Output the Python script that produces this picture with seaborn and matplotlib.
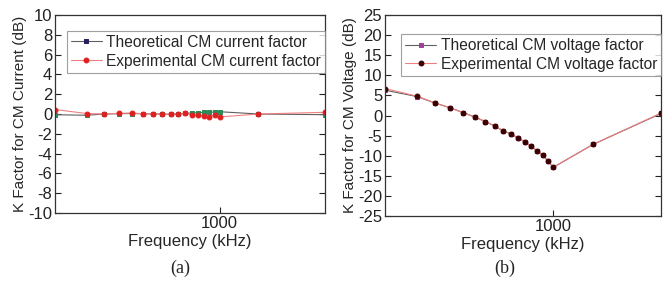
import numpy as np
import pandas as pd
import seaborn as sns
import matplotlib.pyplot as plt
from matplotlib.ticker import FixedLocator, NullLocator, NullFormatter

sns.set_style('ticks')
plt.rcParams['font.family'] = ['Liberation Sans', 'DejaVu Sans']
plt.rcParams['axes.unicode_minus'] = False

# frequencies in kHz
freq = [180, 250, 300, 350, 400, 450, 500, 550, 600, 650, 700, 750, 800, 850, 900, 950, 1000, 1500, 3000]

# (a) CM current K factor (dB)
cur_theo = [-0.07, -0.13, 0.0, 0.03, 0.05, 0.02, 0.0, 0.0, -0.03, 0.0, 0.07, 0.1, 0.13, 0.17, 0.17, 0.2, 0.23, 0.0, -0.07]
cur_exp = [0.45, 0.05, 0.0, 0.07, 0.1, 0.03, 0.0, -0.03, -0.03, 0.0, 0.07, -0.07, -0.13, -0.17, -0.27, -0.07, -0.3, 0.0, 0.17]

# (b) CM voltage K factor (dB)
vol_theo = [6.3, 4.7, 3.1, 1.9, 0.7, -0.4, -1.5, -2.6, -3.8, -4.6, -5.6, -6.6, -7.7, -8.8, -9.9, -11.4, -12.9, -7.2, 0.5]
vol_exp = [6.7, 4.8, 3.1, 1.9, 0.7, -0.4, -1.5, -2.6, -3.8, -4.6, -5.6, -6.6, -7.7, -8.8, -9.9, -11.4, -12.9, -7.2, 0.6]

fig = plt.figure(figsize=(6.7, 2.82), dpi=100)
ax1 = fig.add_axes([55 / 670, 1 - 213 / 282, 270 / 670, 198 / 282])
ax2 = fig.add_axes([385 / 670, 1 - 216 / 282, 276 / 670, 201 / 282])


def draw(ax, theo, exp, tcolor, ecolor, tlabel, elabel, top):
    df = pd.DataFrame({'f': freq, 'theo': theo, 'exp': exp})
    sns.lineplot(data=df, x='f', y='theo', ax=ax, color='#606060', lw=0.8,
                 marker='s', markersize=3, markerfacecolor=tcolor, markeredgecolor=tcolor,
                 label=tlabel, sort=False)
    sns.lineplot(data=df, x='f', y='exp', ax=ax, color='#f08080', lw=0.8,
                 marker='o', markersize=3.5, markerfacecolor=ecolor, markeredgecolor=ecolor,
                 label=elabel, sort=False)
    ax.set_xscale('log')
    ax.set_xlim(180, 3000)
    ax.xaxis.set_major_locator(FixedLocator([1000]))
    ax.xaxis.set_minor_locator(NullLocator())
    ax.xaxis.set_minor_formatter(NullFormatter())
    ax.set_xticklabels(['1000'])
    ax.set_xlabel('Frequency (kHz)', fontsize=12, labelpad=2)
    ax.tick_params(axis='both', direction='in', labelsize=12, length=4, width=0.8,
                   right=True, pad=2, colors='#222222')
    for s in ax.spines.values():
        s.set_linewidth(0.9)
        s.set_color('#333333')
    leg = ax.legend(loc='upper right', bbox_to_anchor=(1.0, top), fontsize=11.2,
                    frameon=True, fancybox=False, borderpad=0.25, handlelength=2.0,
                    handletextpad=0.3, labelspacing=0.25, borderaxespad=0.0)
    leg.get_frame().set_edgecolor('#888888')
    leg.get_frame().set_linewidth(0.8)
    return leg


leg = draw(ax1, cur_theo, cur_exp, '#2e8b57', '#e02020',
           'Theoretical CM current factor', 'Experimental CM current factor', 0.92)
leg.legend_handles[0].set_markerfacecolor('#2a1e5c')
leg.legend_handles[0].set_markeredgecolor('#2a1e5c')
ax1.set_ylim(-10, 10)
ax1.set_yticks(range(-10, 11, 2))
ax1.set_ylabel('K Factor for CM Current (dB)', fontsize=11, labelpad=1)

draw(ax2, vol_theo, vol_exp, '#a0409a', '#3a0000',
     'Theoretical CM voltage factor', 'Experimental CM voltage factor', 0.905)
ax2.set_ylim(-25, 25)
ax2.set_yticks(range(-25, 26, 5))
ax2.set_ylabel('K Factor for CM Voltage (dB)', fontsize=11, labelpad=1)

fig.text(180 / 670, 1 - 268 / 282, '(a)', fontsize=13, family='Liberation Serif', ha='center', va='center')
fig.text(505 / 670, 1 - 268 / 282, '(b)', fontsize=13, family='Liberation Serif', ha='center', va='center')

fig.savefig('out.png', dpi=100, facecolor='white')
